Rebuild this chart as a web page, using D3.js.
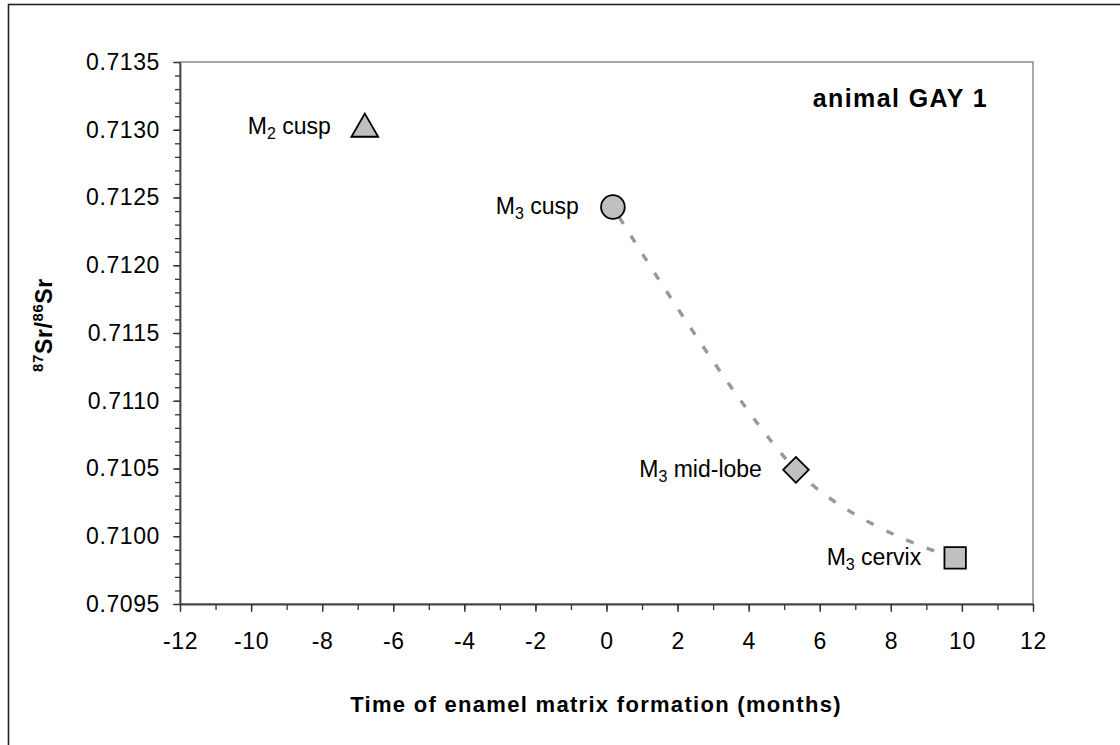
<!DOCTYPE html>
<html>
<head>
<meta charset="utf-8">
<script src="https://cdn.jsdelivr.net/npm/d3@7"></script>
<style>
  body { margin: 0; background: #fff; }
  svg { font-family: "Liberation Sans", Arial, sans-serif; }
</style>
</head>
<body>
<div id="chart"></div>
<script>
// samples
const sampleNames = ["M2 cusp", "M3 cusp", "M3 mid-lobe", "M3 cervix"];
const sampleTooth = ["2", "3", "3", "3"];
const sampleSite = ["cusp", "cusp", "mid-lobe", "cervix"];
const sampleShape = ["triangle", "circle", "diamond", "square"];
const months = [-6.8, 0.18, 5.33, 9.81];
const srRatio = [0.71302, 0.71243, 0.71049, 0.70984];
// M3 samples are joined by the smoothed dashed line
const curveIdx = [1, 2, 3];

const xTicks = [-12, -10, -8, -6, -4, -2, 0, 2, 4, 6, 8, 10, 12];
const yTicks = [0.7095, 0.7100, 0.7105, 0.7110, 0.7115, 0.7120, 0.7125, 0.7130, 0.7135];

const W = 1120, H = 745;
const margin = {top: 62, right: 87, bottom: 141, left: 180};
const w = W - margin.left - margin.right;
const h = H - margin.top - margin.bottom;

const svg = d3.select("#chart").append("svg")
  .attr("width", W)
  .attr("height", H);

// outer frame, runs off the right and bottom edge
svg.append("rect")
  .attr("x", 8.5).attr("y", 4.5)
  .attr("width", 1300).attr("height", 1000)
  .attr("fill", "none")
  .attr("stroke", "#222")
  .attr("stroke-width", 1.6);

const g = svg.append("g")
  .attr("transform", `translate(${margin.left}, ${margin.top})`);

const xScale = d3.scaleLinear().domain([-12, 12]).range([0, w]);
const yScale = d3.scaleLinear().domain([0.7095, 0.7135]).range([h, 0]);

// plot area border
g.append("rect")
  .attr("width", w).attr("height", h)
  .attr("fill", "none")
  .attr("stroke", "#8c8c8c")
  .attr("stroke-width", 1.5);

// minor ticks
const xMinor = d3.range(-12, 12.01, 1);
const yMinor = d3.range(0, 41).map(i => 0.7095 + i * 0.0001);

g.append("g")
  .attr("transform", `translate(0, ${h})`)
  .call(d3.axisBottom(xScale).tickValues(xMinor).tickSize(6).tickFormat(""))
  .call(a => a.select(".domain").remove())
  .selectAll("line").attr("stroke", "#333").attr("stroke-width", 1.3);

g.append("g")
  .call(d3.axisLeft(yScale).tickValues(yMinor).tickSize(5).tickFormat(""))
  .call(a => a.select(".domain").remove())
  .selectAll("line").attr("stroke", "#333").attr("stroke-width", 1.3);

// major axes
const xAxis = g.append("g")
  .attr("transform", `translate(0, ${h})`)
  .call(d3.axisBottom(xScale).tickValues(xTicks).tickSize(8).tickSizeOuter(0).tickPadding(21).tickFormat(d3.format("d")));
xAxis.select(".domain").attr("stroke", "#444").attr("stroke-width", 1.8);
xAxis.selectAll("line").attr("stroke", "#333").attr("stroke-width", 1.3);
xAxis.selectAll("text")
  .attr("font-size", 23).attr("letter-spacing", 0.6).attr("fill", "#000")
  .text(d => d < 0 ? "-" + Math.abs(d) : d);

const yAxis = g.append("g")
  .call(d3.axisLeft(yScale).tickValues(yTicks).tickSize(7).tickSizeOuter(0).tickPadding(13).tickFormat(d3.format(".4f")));
yAxis.select(".domain").attr("stroke", "#444").attr("stroke-width", 1.8);
yAxis.selectAll("line").attr("stroke", "#333").attr("stroke-width", 1.3);
yAxis.selectAll("text").attr("font-size", 23).attr("letter-spacing", 0.6).attr("fill", "#000");

// smoothed dashed line through the M3 samples
const line = d3.line()
  .x(i => xScale(months[i]))
  .y(i => yScale(srRatio[i]))
  .curve(d3.curveCardinal.tension(0));

g.append("path")
  .datum(curveIdx)
  .attr("fill", "none")
  .attr("stroke", "#999")
  .attr("stroke-width", 3.4)
  .attr("stroke-dasharray", "8,14")
  .attr("stroke-dashoffset", -12)
  .attr("d", line);

// markers
const symbols = {
  triangle: d3.symbol().type(d3.symbolTriangle).size(310),
  circle: d3.symbol().type(d3.symbolCircle).size(440),
  diamond: d3.symbol().type(d3.symbolSquare).size(330),
  square: d3.symbol().type(d3.symbolSquare).size(460)
};

g.selectAll(".marker")
  .data(sampleNames)
  .enter()
  .append("path")
  .attr("class", "marker")
  .attr("d", (d, i) => symbols[sampleShape[i]]())
  .attr("transform", (d, i) => {
    const t = `translate(${xScale(months[i])}, ${yScale(srRatio[i])})`;
    if (sampleShape[i] === "diamond") return t + " rotate(45)";
    if (sampleShape[i] === "triangle") return t + " translate(0, 2)";
    return t;
  })
  .attr("fill", "#c0c0c0")
  .attr("stroke", "#000")
  .attr("stroke-width", 1.8);

// point labels: M with subscript tooth number
const labels = g.selectAll(".plabel")
  .data(sampleNames)
  .enter()
  .append("text")
  .attr("class", "plabel")
  .attr("x", (d, i) => xScale(months[i]) - 34)
  .attr("y", (d, i) => yScale(srRatio[i]) + 7)
  .attr("text-anchor", "end")
  .attr("font-size", 23)
  .attr("fill", "#000");
labels.append("tspan").text("M");
labels.append("tspan").attr("font-size", 16).attr("dy", 5).text((d, i) => sampleTooth[i]);
labels.append("tspan").attr("dy", -5).text((d, i) => " " + sampleSite[i]);

// title
g.append("text")
  .attr("x", w - 45)
  .attr("y", 107 - margin.top)
  .attr("text-anchor", "end")
  .attr("font-size", 25)
  .attr("letter-spacing", 1.4)
  .attr("font-weight", "bold")
  .text("animal GAY 1");

// x title
svg.append("text")
  .attr("x", 596)
  .attr("y", 712)
  .attr("text-anchor", "middle")
  .attr("font-size", 22)
  .attr("letter-spacing", 1.3)
  .attr("font-weight", "bold")
  .text("Time of enamel matrix formation (months)");

// y title: 87Sr/86Sr
const yt = svg.append("text")
  .attr("transform", "translate(52, 325) rotate(-90)")
  .attr("text-anchor", "middle")
  .attr("font-size", 23)
  .attr("letter-spacing", 0.6)
  .attr("font-weight", "bold");
yt.append("tspan").attr("font-size", 15).attr("dy", -9).text("87");
yt.append("tspan").attr("dy", 9).text("Sr/");
yt.append("tspan").attr("font-size", 15).attr("dy", -9).text("86");
yt.append("tspan").attr("dy", 9).text("Sr");
</script>
</body>
</html>
